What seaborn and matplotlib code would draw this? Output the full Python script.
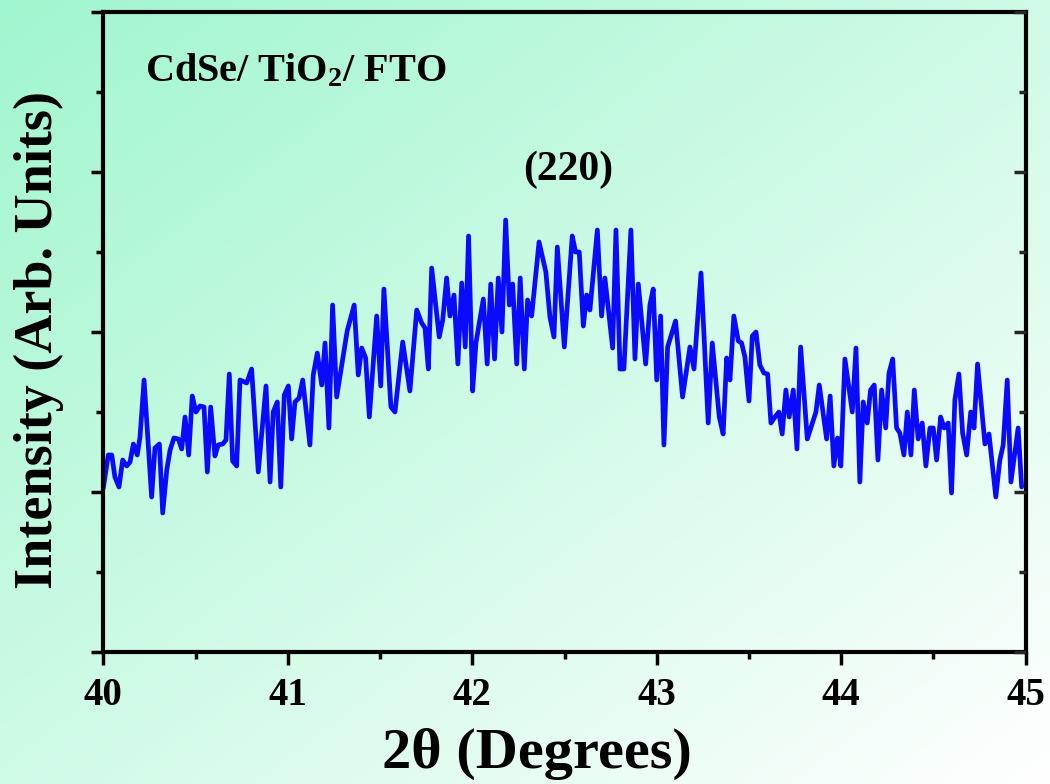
import numpy as np
import matplotlib
matplotlib.use("Agg")
import matplotlib.pyplot as plt
from matplotlib.ticker import MultipleLocator, NullFormatter
import seaborn as sns

# ---- data (2theta in degrees, intensity in arb. units) ----
two_theta = [
    40.000, 40.027, 40.046, 40.063, 40.085, 40.105, 40.127, 40.145, 40.163, 40.184,
    40.199, 40.221, 40.262, 40.280, 40.304, 40.322, 40.344, 40.362, 40.383, 40.407,
    40.425, 40.443, 40.463, 40.482, 40.502, 40.524, 40.546, 40.564, 40.582, 40.605,
    40.623, 40.647, 40.665, 40.683, 40.701, 40.723, 40.741, 40.777, 40.804, 40.840,
    40.882, 40.904, 40.921, 40.943, 40.962, 40.981, 41.003, 41.021, 41.039, 41.061,
    41.081, 41.120, 41.138, 41.160, 41.184, 41.202, 41.223, 41.243, 41.265, 41.301,
    41.322, 41.360, 41.382, 41.401, 41.422, 41.442, 41.482, 41.504, 41.521, 41.559,
    41.581, 41.623, 41.662, 41.699, 41.726, 41.744, 41.762, 41.780, 41.821, 41.840,
    41.861, 41.879, 41.901, 41.922, 41.943, 41.962, 41.980, 42.002, 42.020, 42.060,
    42.081, 42.100, 42.121, 42.141, 42.161, 42.181, 42.201, 42.219, 42.241, 42.260,
    42.282, 42.300, 42.322, 42.362, 42.399, 42.421, 42.443, 42.461, 42.499, 42.542,
    42.560, 42.580, 42.602, 42.620, 42.638, 42.678, 42.701, 42.719, 42.761, 42.779,
    42.801, 42.822, 42.860, 42.882, 42.900, 42.940, 42.963, 42.981, 43.000, 43.021,
    43.039, 43.059, 43.102, 43.140, 43.180, 43.202, 43.240, 43.279, 43.301, 43.339,
    43.360, 43.379, 43.397, 43.418, 43.442, 43.460, 43.478, 43.500, 43.518, 43.538,
    43.559, 43.581, 43.601, 43.619, 43.641, 43.662, 43.680, 43.700, 43.718, 43.740,
    43.760, 43.780, 43.816, 43.863, 43.881, 43.921, 43.940, 43.960, 43.980, 43.998,
    44.020, 44.060, 44.080, 44.101, 44.119, 44.141, 44.159, 44.179, 44.199, 44.219,
    44.241, 44.259, 44.279, 44.300, 44.318, 44.340, 44.358, 44.378, 44.396, 44.417,
    44.439, 44.459, 44.481, 44.499, 44.517, 44.539, 44.558, 44.580, 44.598, 44.616,
    44.638, 44.658, 44.680, 44.702, 44.720, 44.739, 44.779, 44.801, 44.838, 44.860,
    44.878, 44.900, 44.920, 44.959, 44.978,
]
intensity = [
    164, 197, 197, 175, 165, 192, 186, 190, 208, 197,
    215, 272, 155, 204, 208, 139, 182, 202, 214, 213,
    203, 235, 197, 256, 240, 246, 245, 180, 245, 196,
    207, 208, 212, 278, 191, 186, 272, 269, 283, 180,
    266, 170, 240, 250, 165, 257, 266, 213, 250, 254,
    272, 207, 277, 299, 267, 309, 224, 347, 255, 297,
    321, 347, 277, 304, 294, 235, 336, 266, 363, 245,
    240, 310, 261, 342, 329, 324, 283, 384, 315, 332,
    374, 336, 357, 288, 369, 305, 416, 261, 309, 353,
    288, 368, 293, 374, 320, 432, 347, 368, 288, 374,
    283, 352, 336, 410, 380, 335, 315, 405, 305, 416,
    400, 400, 326, 357, 342, 422, 336, 374, 304, 422,
    283, 283, 422, 293, 368, 288, 347, 363, 272, 336,
    207, 305, 331, 255, 305, 283, 379, 229, 309, 235,
    218, 294, 272, 336, 311, 309, 295, 251, 316, 320,
    287, 279, 278, 229, 235, 240, 218, 262, 235, 262,
    203, 305, 213, 240, 267, 213, 256, 186, 214, 186,
    293, 240, 304, 170, 250, 229, 262, 267, 192, 262,
    224, 279, 293, 224, 219, 197, 240, 197, 262, 213,
    229, 186, 224, 224, 192, 235, 224, 229, 159, 252,
    278, 219, 197, 240, 224, 288, 208, 218, 155, 192,
    207, 272, 170, 224, 165,
]
x_ticks = [40, 41, 42, 43, 44, 45]
sample_label = r"CdSe/ TiO$_\mathbf{2}$/ FTO"
peak_label = "(220)"
peak_pos = (42.52, 472)

# ---- style ----
sns.set_theme(style="ticks")
plt.rcParams["font.family"] = ["Liberation Serif", "DejaVu Serif"]
plt.rcParams["font.weight"] = "bold"
plt.rcParams["mathtext.fontset"] = "custom"
plt.rcParams["mathtext.rm"] = "Liberation Serif:bold"
plt.rcParams["mathtext.bf"] = "Liberation Serif:bold"
plt.rcParams["mathtext.it"] = "Liberation Serif:bold:italic"

W, H = 1050, 784
fig = plt.figure(figsize=(W / 100, H / 100), dpi=100)

# gradient background (mint top-left -> white bottom-right)
bg = fig.add_axes([0, 0, 1, 1], zorder=0)
gx, gy = np.meshgrid(np.linspace(0, 1, 300), np.linspace(0, 1, 300))
t = np.clip((gx + gy) / 2.0, 0, 1)
c0 = np.array([160, 246, 206]) / 255.0
c1 = np.array([255, 255, 255]) / 255.0
img = c0[None, None, :] * (1 - t[..., None]) + c1[None, None, :] * t[..., None]
bg.imshow(img, aspect="auto", extent=[0, 1, 0, 1], origin="upper")
bg.set_axis_off()

left, right = 103.3 / W, 1025.7 / W
bottom, top = 1 - 652 / H, 1 - 12 / H
ax = fig.add_axes([left, bottom, right - left, top - bottom], zorder=1)
ax.patch.set_alpha(0)

sns.lineplot(x=two_theta, y=intensity, ax=ax, color="#0a0aff", linewidth=3.4,
             estimator=None, sort=False)

ax.set_xlim(40, 45)
ax.set_ylim(0, 640)
ax.set_xticks(x_ticks)
ax.set_xticklabels([str(v) for v in x_ticks])
ax.xaxis.set_minor_locator(MultipleLocator(0.5))
ax.yaxis.set_major_locator(MultipleLocator(160))
ax.yaxis.set_minor_locator(MultipleLocator(80))
ax.yaxis.set_major_formatter(NullFormatter())

for s in ax.spines.values():
    s.set_visible(True)
    s.set_linewidth(3.0)
    s.set_color("black")

ax.tick_params(axis="both", which="major", length=9, width=2.5, color="black",
               labelsize=28, pad=9, labelcolor="black")
ax.tick_params(axis="both", which="minor", length=5, width=2.5, color="black")
ax.tick_params(axis="x", which="both", direction="out", top=False)
ax.tick_params(axis="y", which="both", direction="out", left=True, right=False)

# inner right ticks drawn on a twin axis
axr = ax.twinx()
axr.set_ylim(0, 640)
axr.yaxis.set_major_locator(MultipleLocator(160))
axr.yaxis.set_minor_locator(MultipleLocator(80))
axr.yaxis.set_major_formatter(NullFormatter())
axr.tick_params(axis="y", which="major", direction="in", length=9, width=2.5)
axr.tick_params(axis="y", which="minor", direction="in", length=5, width=2.5)
for s in axr.spines.values():
    s.set_visible(False)

for lab in ax.get_xticklabels():
    lab.set_fontweight("bold")

ax.set_xlabel("2θ (Degrees)", fontsize=42, fontweight="bold", color="black")
ax.set_ylabel("Intensity (Arb. Units)", fontsize=39, fontweight="bold", color="black")
ax.xaxis.set_label_coords(0.47, -0.118)
ax.yaxis.set_label_coords(-0.043, 0.487)

ax.text(0.045, 0.892, sample_label, transform=ax.transAxes, fontsize=29,
        fontweight="bold", color="black", ha="left", va="baseline")
ax.text(peak_pos[0], peak_pos[1], peak_label, fontsize=30, fontweight="bold",
        color="black", ha="center", va="baseline")

fig.savefig("out.png", dpi=100)
